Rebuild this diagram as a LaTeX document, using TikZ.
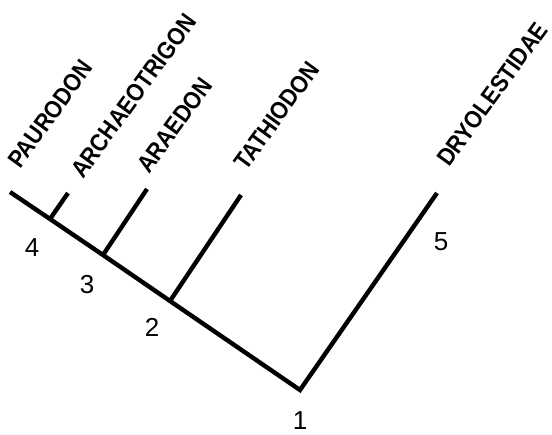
\documentclass[tikz,border=0pt]{standalone}
\usepackage{fontspec}
\setmainfont{Liberation Sans}
\newfontfamily\taxfont[FakeStretch=0.89]{Liberation Sans}
\begin{document}
\begin{tikzpicture}[x=1pt,y=-1pt,
  branch/.style={line width=4.4pt,line cap=butt,line join=miter},
  taxon/.style={rotate=54,anchor=base west,inner sep=0pt,font=\taxfont\bfseries\fontsize{24.5}{25}\selectfont},
  numlab/.style={inner sep=0pt,font=\fontsize{26}{26}\selectfont}]
\useasboundingbox (0,0) rectangle (552,435);
% internal nodes and tips
\coordinate (base) at (10,192);
\coordinate (n4) at (50,219);
\coordinate (n3) at (103,255);
\coordinate (n2) at (170,301);
\coordinate (n1) at (300,390);
\coordinate (tA) at (68,193);
\coordinate (tB) at (147,189);
\coordinate (tC) at (241,195);
\coordinate (tD) at (437,193);
% tree
\draw[branch] (base) -- (n4) -- (n3) -- (n2) -- (n1) -- (tD);
\draw[branch] (n4) -- (tA);
\draw[branch] (n3) -- (tB);
\draw[branch] (n2) -- (tC);
% taxon labels
\node[taxon] (paurodon) at (20,170) {PAURODON};
\node[taxon] (archaeo) at (83,180) {ARCHAEOTRIGON};
\node[taxon] (araedon) at (149,175) {ARAEDON};
\node[taxon] (tathio) at (246,172) {TATHIODON};
\node[taxon] (dryol) at (449,168) {DRYOLESTIDAE};
% node numbers
\node[numlab] (l4) at (32,248) {4};
\node[numlab] (l3) at (87,285) {3};
\node[numlab] (l2) at (152,327) {2};
\node[numlab] (l1) at (300,421) {1};
\node[numlab] (l5) at (441,242) {5};
\end{tikzpicture}
\end{document}
